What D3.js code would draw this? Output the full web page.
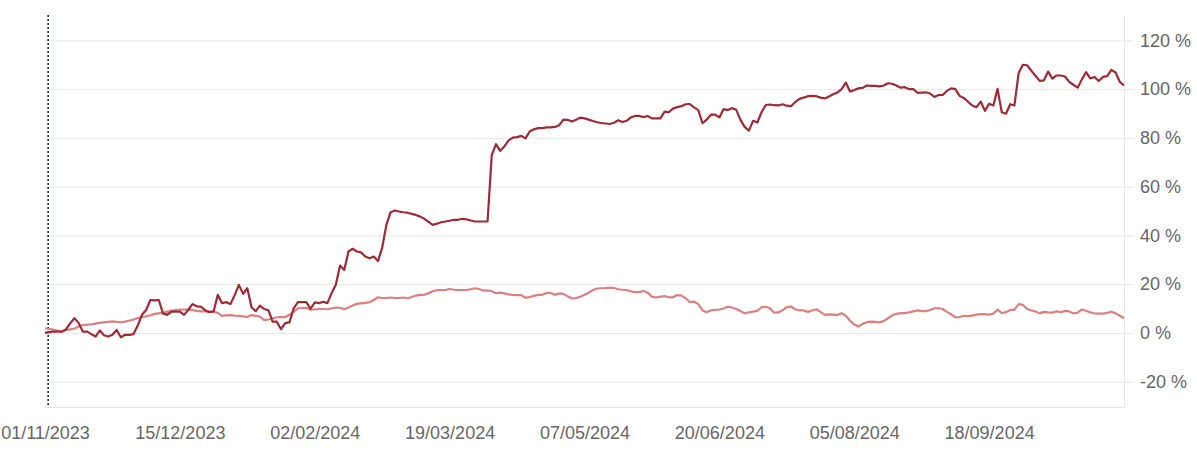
<!DOCTYPE html>
<html><head><meta charset="utf-8">
<script src="https://cdn.jsdelivr.net/npm/d3@7"></script>
<style>
html,body{margin:0;padding:0;background:#fff;}
svg{display:block;font-family:"Liberation Sans",Arial,sans-serif;}
</style></head>
<body><svg id="chart" width="1197" height="457"></svg>
<script>
// Trading-day index based series (values in %)
const portfolio = [0,0.3,0.5,0.5,0.5,1.5,4,6,4,0.5,0.5,-0.5,-1.5,1,-1,-1.5,-0.8,1.2,-1.8,-0.8,-0.8,-0.5,3,7.4,9.4,13.5,13.3,13.5,8,7.4,8.7,8.7,8.7,7.4,9.5,11.8,10.9,10.8,9.3,8.5,8.8,15.6,12.2,12.6,11.8,15.5,19.7,16,18.3,10.5,8.9,11.2,9.8,9.3,4.6,4.6,1.5,4,4.3,10.1,12.6,12.6,12.6,9.9,12.5,12.2,12.8,12.2,16.3,19.7,27.6,25.8,33.4,34.5,33.4,33,31.3,30.6,31.3,29.5,35,44.3,49.5,50.2,49.8,49.5,49.3,48.8,48.4,47.7,46.8,45.5,44.3,44.8,45.4,45.7,46,46.4,46.4,46.8,46.6,46.1,45.7,45.7,45.7,45.7,73,77.4,74.7,76.5,79,80.1,80.3,80.8,79.8,82.6,83.5,84,84,84.3,84.3,84.5,85.2,87.5,87.4,86.7,87.4,88.3,88,87.5,86.9,86.4,86.1,85.9,85.7,86.2,87.2,86.5,87,88.4,89,89,88.5,89,88,88,88,90.8,90.5,92,92.6,93,93.8,93.9,92.5,91.4,86,87.5,89.5,89.5,88.4,91.8,91.4,92.2,91.5,87.4,84.5,83,87,86.3,90.5,93.5,93.7,93.4,93.3,93.8,93.2,93,94.7,96,96.5,97.1,97.2,97.1,96.5,96.2,97,97.9,98.6,100,102.7,99,99.6,100.3,100.5,101.5,101.3,101.3,101.1,101.5,102.4,102.2,101.5,100.6,100.8,100,100,98.5,98.6,98.7,98.2,96.8,97.6,97.6,99.3,100.3,100,97.2,96.4,94.8,93.3,92.6,94.9,91.1,94,93.3,100.1,90.5,89.9,93.8,93.3,106.6,110,109.8,107.6,105.5,103.4,103.6,107.2,104.3,105.6,105.6,105.2,103,101.8,100.6,104,107,104.4,105,103.3,105,105.3,107.9,106.8,103,101.5];
const benchmark = [1.9,1.6,1.3,0.9,0.5,1.2,1.4,1.8,2.6,3.2,3.4,3.5,3.8,4.1,4.3,4.5,4.7,4.5,4.4,4.6,5,5.5,6.1,6.5,6.8,7.2,7.8,8,8.2,8.7,9,9.3,9.5,9.6,9.6,9.3,9,8.8,8.8,8.7,8.6,8.2,7,7.2,7.3,7.1,7,6.8,6.5,7.3,7,6.7,5.2,5.5,5.9,6.4,6.5,6.5,7.4,8.6,10.1,10.2,10.3,9.5,9.6,9.8,9.8,9.7,10.1,10.4,10.3,9.7,10.4,11.2,11.9,12.1,12.3,12.6,13.5,14.6,14.3,14.3,14.5,14.3,14.3,14.5,14.2,14.7,15.3,15.6,15.6,16.3,17.1,17.5,17.6,17.6,18,17.7,17.6,17.6,17.6,17.9,18.3,18,17.3,17.4,17.1,16.3,16.5,16.2,15.8,15.6,15.5,15.5,14.4,14.7,15.2,15.6,15.6,16.4,16.4,15.6,16.2,16,15,14.1,14.3,14.8,15.6,16.5,17.6,18.2,18.3,18.4,18.6,18.4,17.9,17.7,17.6,17,16.7,16.7,17.2,16.5,14.8,14.5,14.9,15.1,14.6,14.6,15.5,15.3,14.2,12.6,12.8,11.8,9.2,8.5,9.2,9.4,9.6,10,10.7,10.4,9.8,9,8,8.4,8.7,9,10.5,10.7,10.1,8.3,8.4,9.3,10.6,10.8,9.7,9.2,9.2,8.6,9.2,9.7,8.6,7.4,7.6,7.5,7.3,8.1,7,5,3.4,2.6,3.7,4.4,4.6,4.5,4.3,4.8,6,7.2,7.8,8.1,8.1,8.4,8.8,9.2,8.9,8.9,9.4,10.1,10.1,9.8,8.6,7.6,6.4,6.5,7,6.9,7.1,7.5,7.7,7.7,7.5,7.9,9.5,8.1,8.5,9.4,9.5,11.8,11.5,9.8,9.2,8.8,8,8.6,8.4,8.3,8.8,8.5,9,8.8,8,8.3,9.6,9.1,8.4,8,7.9,7.9,8.2,8.7,8,7,6];
const tickIndices = [0,32,64,96,128,160,192,224];
const tickLabels = ["01/11/2023","15/12/2023","02/02/2024","19/03/2024","07/05/2024","20/06/2024","05/08/2024","18/09/2024"];
const yTicks = [-20,0,20,40,60,80,100,120];
const markerIndex = 0.75;

(function () {
const svg = d3.select("#chart");
const pLeft = 45, pRight = 1124, pTop = 16, pBottom = 406;
const x = d3.scaleLinear().domain([0, portfolio.length - 1]).range([pLeft, pRight]);
const y = d3.scaleLinear().domain([-30, 130]).range([pBottom, pTop]);

// grid
const grid = svg.append("g").attr("transform", `translate(${pRight},0)`)
  .call(d3.axisLeft(y).tickValues(yTicks).tickSize(pRight - pLeft + 1).tickFormat(""));
grid.select(".domain").remove();
grid.selectAll("line").attr("stroke", "#e6e6e6").attr("stroke-width", 1);

// x axis line
svg.append("line").attr("x1", pLeft - 1).attr("x2", pRight).attr("y1", pBottom + 1.5).attr("y2", pBottom + 1.5)
  .attr("stroke", "#e6e6e6");

// right axis
const yAxis = svg.append("g").attr("transform", `translate(${pRight},0)`)
  .call(d3.axisRight(y).tickValues(yTicks).tickSize(10).tickPadding(6).tickFormat(d => d + " %"));
yAxis.select(".domain").attr("d", `M0.5,${pTop - 1}V${pBottom + 1}`).attr("stroke", "#e6e6e6");
yAxis.selectAll(".tick line").attr("stroke", "#e6e6e6");
yAxis.selectAll("text").attr("fill", "#666").style("font-size", "18px")
  .style("font-family", '"Liberation Sans", Arial, sans-serif');

// x axis labels
const xAxis = svg.append("g").attr("transform", `translate(0,${pBottom})`)
  .call(d3.axisBottom(x).tickValues(tickIndices).tickSize(0).tickPadding(20)
    .tickFormat((d, i) => tickLabels[i]));
xAxis.select(".domain").remove();
xAxis.selectAll("text").attr("fill", "#666").style("font-size", "18px")
  .style("font-family", '"Liberation Sans", Arial, sans-serif');

// marker dashed line
svg.append("line").attr("x1", x(markerIndex)).attr("x2", x(markerIndex))
  .attr("y1", pTop - 1).attr("y2", pBottom + 1)
  .attr("stroke", "#1c2638").attr("stroke-width", 1.6).attr("stroke-dasharray", "2,2");

const line = d3.line().x((d, i) => x(i)).y(d => y(d));
svg.append("path").datum(benchmark).attr("d", line).attr("fill", "none")
  .attr("stroke", "#db7f7f").attr("stroke-width", 2.2).attr("stroke-linejoin", "round");
svg.append("path").datum(portfolio).attr("d", line).attr("fill", "none")
  .attr("stroke", "#9e2a35").attr("stroke-width", 2.2).attr("stroke-linejoin", "round");
})();
</script></body></html>
